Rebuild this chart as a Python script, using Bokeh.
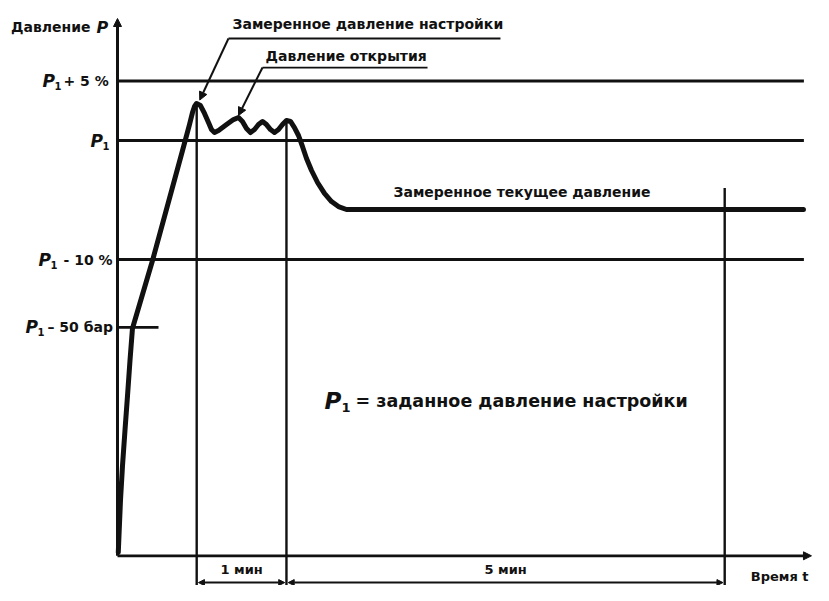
from bokeh.plotting import figure
from bokeh.models import Range1d, Arrow, NormalHead, Label
from bokeh.embed import file_html
from bokeh.resources import INLINE

# ---- data (time in minutes, pressure in % of P1) ----
curve_t = [0.009, 0.017, 0.034, 0.057, 0.085, 0.114, 0.142, 0.170, 0.398, 0.739,
           0.818, 0.852, 0.875, 0.898, 0.943, 0.989, 1.034, 1.068, 1.102, 1.148,
           1.239, 1.318, 1.375, 1.420, 1.466, 1.511, 1.557, 1.602, 1.648, 1.693,
           1.739, 1.784, 1.830, 1.875, 1.920, 1.966, 2.011, 2.057, 2.102, 2.148,
           2.205, 2.273, 2.352, 2.432, 2.511, 2.602, 7.795]
curve_p = [65.38, 66.81, 69.75, 72.69, 75.63, 78.57, 81.51, 84.20, 89.92, 99.16,
           101.34, 102.35, 102.86, 103.11, 102.94, 102.27, 101.51, 100.92, 100.67, 100.84,
           101.34, 101.76, 101.93, 101.60, 101.01, 100.67, 100.92, 101.34, 101.60, 101.34,
           100.92, 100.67, 100.92, 101.34, 101.68, 101.60, 101.09, 100.42, 99.50, 98.49,
           97.48, 96.47, 95.55, 94.87, 94.45, 94.20, 94.20]

level_symbol = "P"
level_index = "1"
level_suffix = ["+ 5 %", "", "- 10 %", "– 50 бар"]
level_values = [105.0, 100.0, 90.0, 84.3]
level_line_end = [7.8, 7.8, 7.8, 0.466]

marker_t = [0.90, 1.92, 6.90]
marker_top = [103.1, 101.7, 96.0]
interval_labels = ["1 мин", "5 мин"]

axis_p0 = 65.1
axis_t_end = 7.886
axis_p_end = 110.25

FONT = "DejaVu Sans"
K = "#111111"

p = figure(width=813, height=585, output_backend="svg", toolbar_location=None,
           x_range=Range1d(-1.3295, 7.9091), y_range=Range1d(62.605, 111.765),
           x_axis_location=None, y_axis_location=None,
           min_border=0, min_border_left=0, min_border_right=0,
           min_border_top=0, min_border_bottom=0)
p.grid.visible = False
p.outline_line_color = None
p.background_fill_color = "white"
p.border_fill_color = "white"

# horizontal reference levels
for v, e in zip(level_values, level_line_end):
    p.line([0, e], [v, v], line_color=K, line_width=2.8)

# vertical markers
for t, top in zip(marker_t, marker_top):
    p.line([t, t], [top, 62.5], line_color=K, line_width=2.4)

# axes with arrows
p.add_layout(Arrow(end=NormalHead(size=8, fill_color=K, line_color=K),
                   x_start=0, y_start=axis_p0, x_end=0, y_end=axis_p_end,
                   line_color=K, line_width=3))
p.add_layout(Arrow(end=NormalHead(size=8, fill_color=K, line_color=K),
                   x_start=0, y_start=axis_p0, x_end=axis_t_end, y_end=axis_p0,
                   line_color=K, line_width=2.8))

# pressure curve
p.line(curve_t, curve_p, line_color=K, line_width=5, line_join="round", line_cap="round")

# dimension arrows
dim_p = 62.85
for a, b in [(marker_t[0], marker_t[1]), (marker_t[1], marker_t[2])]:
    p.add_layout(Arrow(start=NormalHead(size=6, fill_color=K, line_color=K),
                       end=NormalHead(size=6, fill_color=K, line_color=K),
                       x_start=a + 0.02, y_start=dim_p, x_end=b - 0.02, y_end=dim_p,
                       line_color=K, line_width=2))

# leaders
p.line([1.261, 4.352], [108.57, 108.57], line_color=K, line_width=2.2)
p.add_layout(Arrow(end=NormalHead(size=8, fill_color=K, line_color=K),
                   x_start=1.261, y_start=108.57, x_end=0.935, y_end=103.4,
                   line_color=K, line_width=2))
p.line([1.648, 3.523], [106.13, 106.13], line_color=K, line_width=1.8)
p.add_layout(Arrow(end=NormalHead(size=8, fill_color=K, line_color=K),
                   x_start=1.648, y_start=106.13, x_end=1.375, y_end=102.1,
                   line_color=K, line_width=2))


def lab(x, y, txt, size="14px", align="left", style="bold", yoff=0):
    p.add_layout(Label(x=x, y=y, text=txt, text_font=FONT, text_font_style=style,
                       text_font_size=size, text_align=align, text_baseline="middle",
                       text_color=K, y_offset=yoff))


PX = 88.0  # px per minute (layout only)
def tx(px):
    return (px - 117) / PX

# tick labels: italic P, subscript 1, suffix
p_left = [42, 90, 38, 25]
s_left = [63, 0, 63, 47]
for v, suf, pl, sl in zip(level_values, level_suffix, p_left, s_left):
    lab(tx(pl), v, level_symbol, size="17px", style="bold italic")
    lab(tx(pl + 12), v, level_index, size="10px", yoff=-5)
    if suf:
        lab(tx(sl), v, suf, size="14px")

lab(tx(90), 109.5, "Давление", size="14px", align="right")
lab(tx(96), 109.5, "P", size="16px", style="bold italic")
lab(tx(232), 109.75, "Замеренное давление настройки", size="14px")
lab(tx(265), 107.14, "Давление открытия", size="14px")
lab(tx(393), 95.71, "Замеренное текущее давление", size="14px")

lab(tx(324), 78.15, level_symbol, size="23px", style="bold italic")
lab(tx(341), 78.15, level_index, size="13px", yoff=-7)
lab(tx(355), 78.15, "= заданное давление настройки", size="17.5px")

lab((marker_t[0] + marker_t[1]) / 2, 63.95, interval_labels[0], size="13px", align="center")
lab((marker_t[1] + marker_t[2]) / 2, 63.95, interval_labels[1], size="13px", align="center")
lab(tx(808), 63.4, "Время t", size="13px", align="right")

open("out.html", "w").write(file_html(p, INLINE))
